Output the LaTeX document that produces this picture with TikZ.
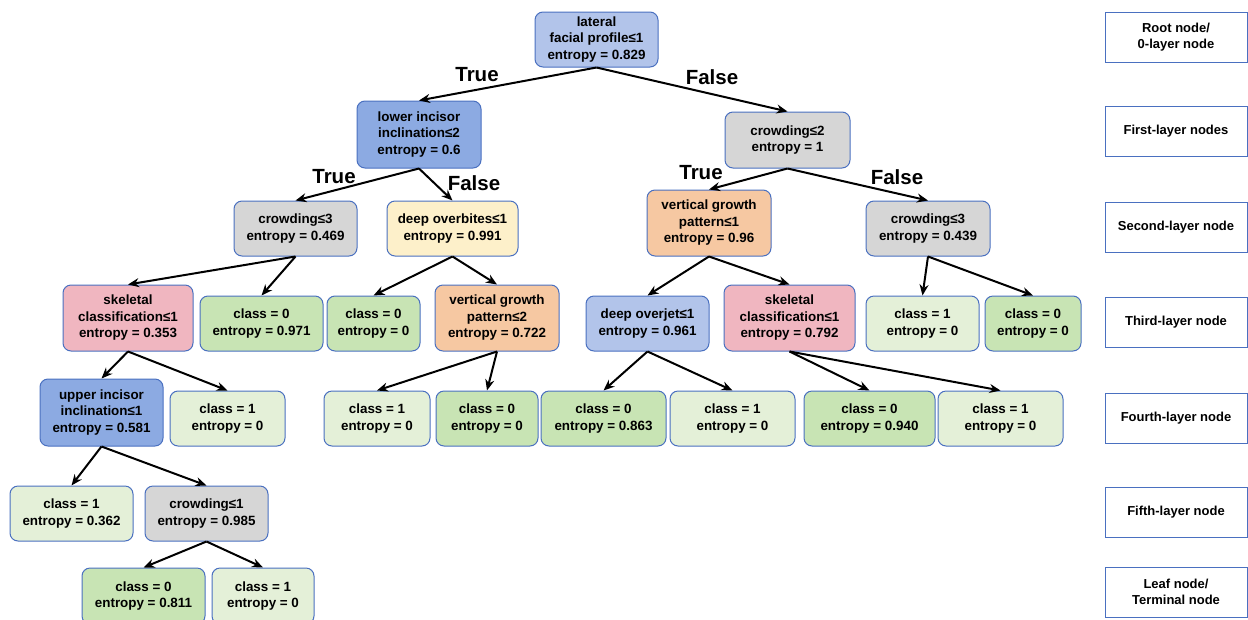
\documentclass[tikz,border=0pt]{standalone}
\usepackage{fontspec}
\setmainfont{Liberation Sans}
\usetikzlibrary{arrows.meta}
\definecolor{bdr}{RGB}{74,112,192}
\definecolor{cblueL}{RGB}{178,196,234}
\definecolor{cblueM}{RGB}{140,170,226}
\definecolor{cgray}{RGB}{214,214,214}
\definecolor{cyel}{RGB}{253,240,202}
\definecolor{corange}{RGB}{246,200,162}
\definecolor{cpink}{RGB}{240,182,192}
\definecolor{cgreenD}{RGB}{200,228,180}
\definecolor{cgreenL}{RGB}{228,240,216}
\begin{document}
\begin{tikzpicture}[x=1pt,y=-1pt,
  tn/.style={draw=bdr, line width=1pt, rounded corners=8pt, align=center,
    font=\fontsize{13.4}{16.5}\selectfont\bfseries, inner sep=0pt},
  lg/.style={draw=bdr, line width=0.8pt, align=center, inner sep=0pt,
    minimum width=142pt, minimum height=50pt,
    font=\fontsize{13}{16.5}\selectfont\bfseries},
  el/.style={font=\fontsize{20.5}{24}\selectfont\bfseries, inner sep=0pt},
  arr/.style={-{Stealth[length=11pt,width=9pt]}, line width=2pt, black},
  sz/.style 2 args={minimum width=#1pt, minimum height=#2pt}]
\useasboundingbox (0,0) rectangle (1248,619);
% layer 0
\node[tn, fill=cblueL, sz={123}{55}] (root) at (596.5,39.5) {lateral\\facial profile≤1\\entropy = 0.829};
% layer 1
\node[tn, fill=cblueM, sz={124}{67}] (li) at (419,134.5) {lower incisor\\inclination≤2\\entropy = 0.6};
\node[tn, fill=cgray, sz={125}{56}] (c2) at (787.5,140) {crowding≤2\\entropy = 1};
% layer 2
\node[tn, fill=cgray, sz={123}{55}] (c3L) at (295.5,228.5) {crowding≤3\\entropy = 0.469};
\node[tn, fill=cyel, sz={131}{55}] (dob) at (452.5,228.5) {deep overbites≤1\\entropy = 0.991};
\node[tn, fill=corange, sz={124}{66}] (vgp1) at (709,223) {vertical growth\\pattern≤1\\entropy = 0.96};
\node[tn, fill=cgray, sz={124}{55}] (c3R) at (928,228.5) {crowding≤3\\entropy = 0.439};
% layer 3
\node[tn, fill=cpink, sz={130}{66}] (skL) at (128,318) {skeletal\\classification≤1\\entropy = 0.353};
\node[tn, fill=cgreenD, sz={123}{55}] (c0a) at (261.5,323.5) {class = 0\\entropy = 0.971};
\node[tn, fill=cgreenD, sz={93}{55}] (c0b) at (373.5,323.5) {class = 0\\entropy = 0};
\node[tn, fill=corange, sz={124}{66}] (vgp2) at (497,318) {vertical growth\\pattern≤2\\entropy = 0.722};
\node[tn, fill=cblueL, sz={123}{55}] (doj) at (647.5,323.5) {deep overjet≤1\\entropy = 0.961};
\node[tn, fill=cpink, sz={131}{66}] (skR) at (789.5,318) {skeletal\\classification≤1\\entropy = 0.792};
\node[tn, fill=cgreenL, sz={113}{55}] (c1c) at (922.5,323.5) {class = 1\\entropy = 0};
\node[tn, fill=cgreenD, sz={96}{55}] (c0d) at (1033,323.5) {class = 0\\entropy = 0};
% layer 4
\node[tn, fill=cblueM, sz={123}{67}] (ui) at (101.5,412.5) {upper incisor\\inclination≤1\\entropy = 0.581};
\node[tn, fill=cgreenL, sz={115}{55}] (c1e) at (227.5,418.5) {class = 1\\entropy = 0};
\node[tn, fill=cgreenL, sz={106}{55}] (c1f) at (377,418.5) {class = 1\\entropy = 0};
\node[tn, fill=cgreenD, sz={102}{55}] (c0g) at (487,418.5) {class = 0\\entropy = 0};
\node[tn, fill=cgreenD, sz={125}{55}] (c0h) at (603.5,418.5) {class = 0\\entropy = 0.863};
\node[tn, fill=cgreenL, sz={125}{55}] (c1i) at (732.5,418.5) {class = 1\\entropy = 0};
\node[tn, fill=cgreenD, sz={131}{55}] (c0j) at (869.5,418.5) {class = 0\\entropy = 0.940};
\node[tn, fill=cgreenL, sz={125}{55}] (c1k) at (1000.5,418.5) {class = 1\\entropy = 0};
% layer 5
\node[tn, fill=cgreenL, sz={123}{55}] (c1l) at (71.5,513.5) {class = 1\\entropy = 0.362};
\node[tn, fill=cgray, sz={123}{55}] (cr1) at (206.5,513.5) {crowding≤1\\entropy = 0.985};
% leaves
\node[tn, fill=cgreenD, sz={123}{56}] (c0m) at (143.5,596) {class = 0\\entropy = 0.811};
\node[tn, fill=cgreenL, sz={102}{56}] (c1n) at (263,596) {class = 1\\entropy = 0};
% edges
\draw[arr] (root.south) -- (li.north);
\draw[arr] (root.south) -- (c2.north);
\draw[arr] (li.south) -- (c3L.north);
\draw[arr] (li.south) -- (dob.north);
\draw[arr] (c2.south) -- (vgp1.north);
\draw[arr] (c2.south) -- (c3R.north);
\draw[arr] (c3L.south) -- (skL.north);
\draw[arr] (c3L.south) -- (c0a.north);
\draw[arr] (dob.south) -- (c0b.north);
\draw[arr] (dob.south) -- (vgp2.north);
\draw[arr] (vgp1.south) -- (doj.north);
\draw[arr] (vgp1.south) -- (skR.north);
\draw[arr] (c3R.south) -- (c1c.north);
\draw[arr] (c3R.south) -- (c0d.north);
\draw[arr] (skL.south) -- (ui.north);
\draw[arr] (skL.south) -- (c1e.north);
\draw[arr] (vgp2.south) -- (c1f.north);
\draw[arr] (vgp2.south) -- (c0g.north);
\draw[arr] (doj.south) -- (c0h.north);
\draw[arr] (doj.south) -- (c1i.north);
\draw[arr] (skR.south) -- (c0j.north);
\draw[arr] (skR.south) -- (c1k.north);
\draw[arr] (ui.south) -- (c1l.north);
\draw[arr] (ui.south) -- (cr1.north);
\draw[arr] (cr1.south) -- (c0m.north);
\draw[arr] (cr1.south) -- (c1n.north);
% edge labels
\node[el] (t1) at (477,75) {True};
\node[el] (f1) at (712,77) {False};
\node[el] (t2) at (334,177) {True};
\node[el] (f2) at (474,183) {False};
\node[el] (t3) at (701,173) {True};
\node[el] (f3) at (897,177) {False};
% legend
\node[lg] (L0) at (1176,37) {Root node/\\0-layer node};
\node[lg] (L1) at (1176,131) {First-layer nodes};
\node[lg] (L2) at (1176,227) {Second-layer node};
\node[lg] (L3) at (1176,322) {Third-layer node};
\node[lg] (L4) at (1176,418) {Fourth-layer node};
\node[lg] (L5) at (1176,512) {Fifth-layer node};
\node[lg] (L6) at (1176,592) {Leaf node/\\Terminal node};
\end{tikzpicture}
\end{document}
